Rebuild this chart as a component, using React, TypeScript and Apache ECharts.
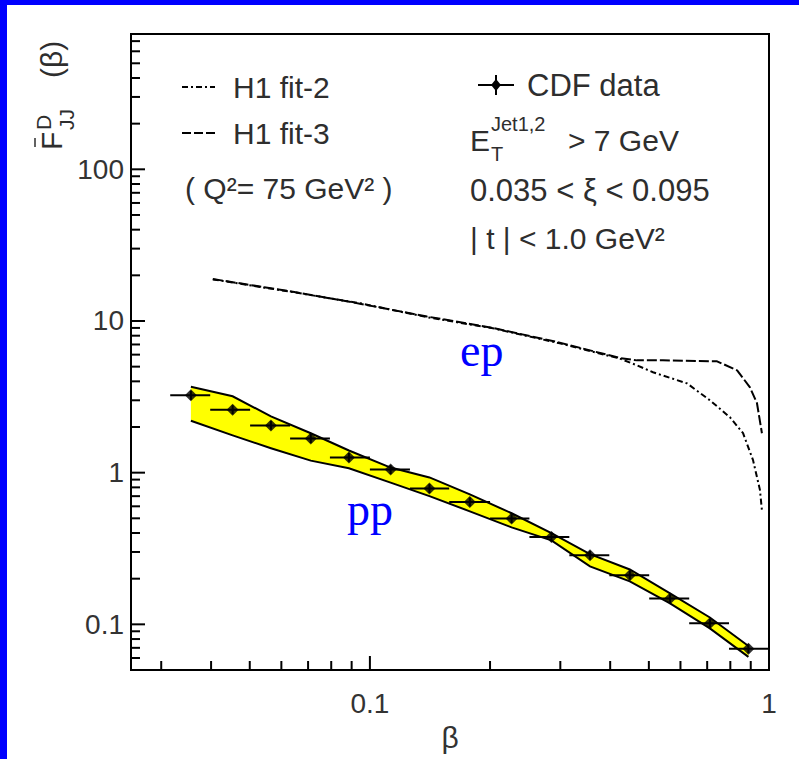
import React, { useEffect, useRef } from 'react';
import * as echarts from 'echarts';

// ---- axis ranges ----
const X_MIN = 0.0252;
const X_MAX = 1;
const Y_MIN = 0.05;
const Y_MAX = 780;

// ---- tick values / labels ----
const xMajorTicks = [0.1, 1];
const xTickLabels = ['0.1', '1'];
const xMinorTicks = [0.03, 0.04, 0.05, 0.06, 0.07, 0.08, 0.09, 0.2, 0.3, 0.4, 0.5, 0.6, 0.7, 0.8, 0.9];
const yMajorTicks = [0.1, 1, 10, 100];
const yTickLabels = ['0.1', '1', '10', '100'];
const yMinorTicks = [
  0.06, 0.07, 0.08, 0.09,
  0.2, 0.3, 0.4, 0.5, 0.6, 0.7, 0.8, 0.9,
  2, 3, 4, 5, 6, 7, 8, 9,
  20, 30, 40, 50, 60, 70, 80, 90,
  200, 300, 400, 500, 600, 700,
];

// ---- CDF data (pp) ----
const cdfBeta = [0.0356, 0.0453, 0.0565, 0.0711, 0.0886, 0.1127, 0.141, 0.178, 0.2265, 0.285, 0.356, 0.448, 0.565, 0.711, 0.888];
const cdfF = [3.24, 2.6, 2.05, 1.68, 1.26, 1.05, 0.785, 0.64, 0.498, 0.376, 0.285, 0.211, 0.148, 0.1015, 0.069];
const cdfBetaLo = [0.0316, 0.0398, 0.0501, 0.0631, 0.0794, 0.1, 0.126, 0.158, 0.2, 0.251, 0.316, 0.398, 0.501, 0.631, 0.794];
const cdfBetaHi = [0.0398, 0.0501, 0.0631, 0.0794, 0.1, 0.126, 0.158, 0.2, 0.251, 0.316, 0.398, 0.501, 0.631, 0.794, 1.0];
const cdfFLo = [3.02, 2.43, 1.92, 1.57, 1.18, 0.98, 0.735, 0.6, 0.466, 0.352, 0.267, 0.197, 0.138, 0.095, 0.0645];
const cdfFHi = [3.46, 2.78, 2.19, 1.8, 1.35, 1.12, 0.84, 0.685, 0.532, 0.402, 0.305, 0.226, 0.158, 0.1085, 0.0738];

// ---- systematic band ----
const bandUpper = [3.68, 3.19, 2.35, 1.82, 1.4, 1.08, 0.93, 0.72, 0.54, 0.4, 0.29, 0.23, 0.16, 0.111, 0.072];
const bandLower = [2.2, 1.76, 1.45, 1.2, 1.07, 0.86, 0.7, 0.556, 0.436, 0.358, 0.241, 0.192, 0.1375, 0.094, 0.061];

// ---- H1 fits (ep) ----
const fit2Beta = [0.0404, 0.0641, 0.0944, 0.139, 0.2034, 0.299, 0.423, 0.467, 0.512, 0.623, 0.711, 0.798, 0.861, 0.912, 0.949, 0.96];
const fit2F = [18.8, 15.5, 13.1, 10.6, 8.95, 7.12, 5.65, 5.1, 4.59, 3.88, 3.0, 2.32, 1.82, 1.21, 0.77, 0.565];
const fit3Beta = [0.0404, 0.0641, 0.0944, 0.139, 0.2034, 0.299, 0.423, 0.467, 0.542, 0.741, 0.832, 0.896, 0.933, 0.96];
const fit3F = [18.9, 15.6, 13.0, 10.7, 9.0, 7.2, 5.7, 5.5, 5.5, 5.42, 4.73, 3.65, 2.87, 1.82];

const FONT = '"Liberation Sans", Arial, sans-serif';
const SERIF = '"Liberation Serif", "Times New Roman", serif';
const TXT = '#2e2e2e';

function labelFor(v: number, ticks: number[], labels: string[]) {
  const i = ticks.findIndex((t) => Math.abs(Math.log10(v) - Math.log10(t)) < 1e-6);
  return i >= 0 ? labels[i] : '';
}

function txt(text: string, x: number, y: number, size: number, extra: any = {}) {
  return {
    type: 'text',
    x,
    y,
    style: {
      text,
      fontSize: size,
      fontFamily: FONT,
      fill: TXT,
      align: 'left',
      verticalAlign: 'middle',
      ...extra,
    },
  };
}

export default function App() {
  const ref = useRef<HTMLDivElement>(null);

  useEffect(() => {
    document.body.style.margin = '0';
    const chart = echarts.init(ref.current!, null, { renderer: 'svg' });

    const option: any = {
      animation: false,
      backgroundColor: '#ffffff',
      grid: {
        left: 131,
        right: 30,
        top: 34,
        bottom: 89,
        show: true,
        borderColor: '#000',
        borderWidth: 2,
        backgroundColor: 'transparent',
      },
      xAxis: {
        type: 'log',
        logBase: 10,
        min: X_MIN,
        max: X_MAX,
        axisLine: { show: false },
        axisTick: { show: false },
        splitLine: { show: false },
        minorTick: { show: false },
        axisLabel: {
          formatter: (v: number) => labelFor(v, xMajorTicks, xTickLabels),
          fontSize: 28,
          fontFamily: FONT,
          color: '#333',
          margin: 19,
        },
        name: 'β',
        nameLocation: 'middle',
        nameGap: 52,
        nameTextStyle: { fontSize: 30, fontFamily: FONT, color: '#333' },
      },
      yAxis: {
        type: 'log',
        logBase: 10,
        min: Y_MIN,
        max: Y_MAX,
        axisLine: { show: false },
        axisTick: { show: false },
        splitLine: { show: false },
        minorTick: { show: false },
        axisLabel: {
          formatter: (v: number) => labelFor(v, yMajorTicks, yTickLabels),
          fontSize: 28,
          fontFamily: FONT,
          color: '#333',
          margin: 7,
        },
      },
      series: [
        // yellow systematic band
        {
          type: 'custom',
          z: 2,
          data: [[cdfBeta[0], bandUpper[0]]],
          renderItem: (_p: any, api: any) => {
            const up = cdfBeta.map((b, i) => api.coord([b, bandUpper[i]]));
            const lo = cdfBeta.map((b, i) => api.coord([b, bandLower[i]]));
            return {
              type: 'group',
              children: [
                {
                  type: 'polygon',
                  shape: { points: up.concat(lo.slice().reverse()) },
                  style: { fill: '#ffff00', stroke: 'none' },
                },
                { type: 'polyline', shape: { points: up }, style: { stroke: '#000', lineWidth: 2, fill: 'none' } },
                { type: 'polyline', shape: { points: lo }, style: { stroke: '#000', lineWidth: 2, fill: 'none' } },
              ],
            };
          },
        },
        // H1 fit-2 (dash-dot)
        {
          type: 'line',
          z: 3,
          showSymbol: false,
          data: fit2Beta.map((b, i) => [b, fit2F[i]]),
          lineStyle: { color: '#000', width: 2, type: [6, 3, 2, 3] },
        },
        // H1 fit-3 (dashed)
        {
          type: 'line',
          z: 3,
          showSymbol: false,
          data: fit3Beta.map((b, i) => [b, fit3F[i]]),
          lineStyle: { color: '#000', width: 2, type: [10, 3] },
        },
        // CDF error bars
        {
          type: 'custom',
          z: 4,
          data: cdfBeta.map((b, i) => [b, cdfF[i], cdfBetaLo[i], cdfBetaHi[i], cdfFLo[i], cdfFHi[i]]),
          renderItem: (_p: any, api: any) => {
            const b = api.value(0);
            const f = api.value(1);
            const l = api.coord([api.value(2), f]);
            const h = api.coord([api.value(3), f]);
            const vl = api.coord([b, api.value(4)]);
            const vh = api.coord([b, api.value(5)]);
            return {
              type: 'group',
              children: [
                { type: 'line', shape: { x1: l[0], y1: l[1], x2: h[0], y2: h[1] }, style: { stroke: '#000', lineWidth: 2 } },
                { type: 'line', shape: { x1: vl[0], y1: vl[1], x2: vh[0], y2: vh[1] }, style: { stroke: '#000', lineWidth: 2 } },
              ],
            };
          },
        },
        // CDF markers
        {
          type: 'scatter',
          z: 5,
          symbol: 'diamond',
          symbolSize: 12,
          itemStyle: { color: '#000' },
          data: cdfBeta.map((b, i) => [b, cdfF[i]]),
        },
        // x-axis ticks
        {
          type: 'custom',
          z: 6,
          data: xMinorTicks.map((v) => [v, Y_MIN, 0]).concat(xMajorTicks.map((v) => [v, Y_MIN, 1])),
          renderItem: (_p: any, api: any) => {
            const p = api.coord([api.value(0), api.value(1)]);
            const len = api.value(2) ? 14 : 9;
            return { type: 'line', shape: { x1: p[0], y1: p[1], x2: p[0], y2: p[1] - len }, style: { stroke: '#000', lineWidth: 2 } };
          },
        },
        // y-axis ticks
        {
          type: 'custom',
          z: 6,
          data: yMinorTicks.map((v) => [X_MIN, v, 0]).concat(yMajorTicks.map((v) => [X_MIN, v, 1])),
          renderItem: (_p: any, api: any) => {
            const p = api.coord([api.value(0), api.value(1)]);
            const len = api.value(2) ? 14 : 9;
            return { type: 'line', shape: { x1: p[0], y1: p[1], x2: p[0] + len, y2: p[1] }, style: { stroke: '#000', lineWidth: 2 } };
          },
        },
      ],
      graphic: [
        // blue frame of the slide
        { type: 'rect', shape: { x: 0, y: 0, width: 799, height: 5 }, style: { fill: '#0000ff' } },
        { type: 'rect', shape: { x: 0, y: 0, width: 7, height: 759 }, style: { fill: '#0000ff' } },
        // y-axis title (rotated)
        {
          type: 'group',
          x: 62,
          y: 150,
          rotation: Math.PI / 2,
          children: [
            txt('F', 0, -11, 30),
            { type: 'line', shape: { x1: 3, y1: -27, x2: 12, y2: -27 }, style: { stroke: TXT, lineWidth: 1.5 } },
            txt('D', 20, -19, 21),
            txt('JJ', 20, 4, 21),
            txt('(β)', 72, -11, 30),
          ],
        },
        // legend left
        { type: 'line', shape: { x1: 182, y1: 87, x2: 215, y2: 87 }, style: { stroke: '#000', lineWidth: 2, lineDash: [6, 3, 2, 3] } },
        txt('H1 fit-2', 233, 87, 30),
        { type: 'line', shape: { x1: 182, y1: 133, x2: 215, y2: 133 }, style: { stroke: '#000', lineWidth: 2, lineDash: [9, 3] } },
        txt('H1 fit-3', 233, 133, 30),
        txt('( Q²= 75 GeV² )', 185, 188, 30),
        // legend right
        { type: 'line', shape: { x1: 478, y1: 85, x2: 514, y2: 85 }, style: { stroke: '#000', lineWidth: 2 } },
        { type: 'line', shape: { x1: 496, y1: 75, x2: 496, y2: 95 }, style: { stroke: '#000', lineWidth: 2 } },
        { type: 'polygon', shape: { points: [[496, 79], [501, 85], [496, 91], [491, 85]] }, style: { fill: '#000' } },
        txt('CDF data', 527, 85, 31),
        txt('E', 470, 140, 30),
        txt('Jet1,2', 491, 124, 20),
        txt('T', 491, 154, 20),
        txt('> 7 GeV', 568, 140, 30),
        txt('0.035 < ξ < 0.095', 470, 190, 31),
        txt('| t | < 1.0 GeV²', 470, 238, 30),
        // annotations
        txt('ep', 460, 350, 46, { fontFamily: SERIF, fill: '#0000ff' }),
        txt('pp', 347, 509, 46, { fontFamily: SERIF, fill: '#0000ff' }),
      ],
    };

    chart.setOption(option);
    return () => chart.dispose();
  }, []);

  return <div ref={ref} style={{ width: 799, height: 759, background: '#fff' }} />;
}
